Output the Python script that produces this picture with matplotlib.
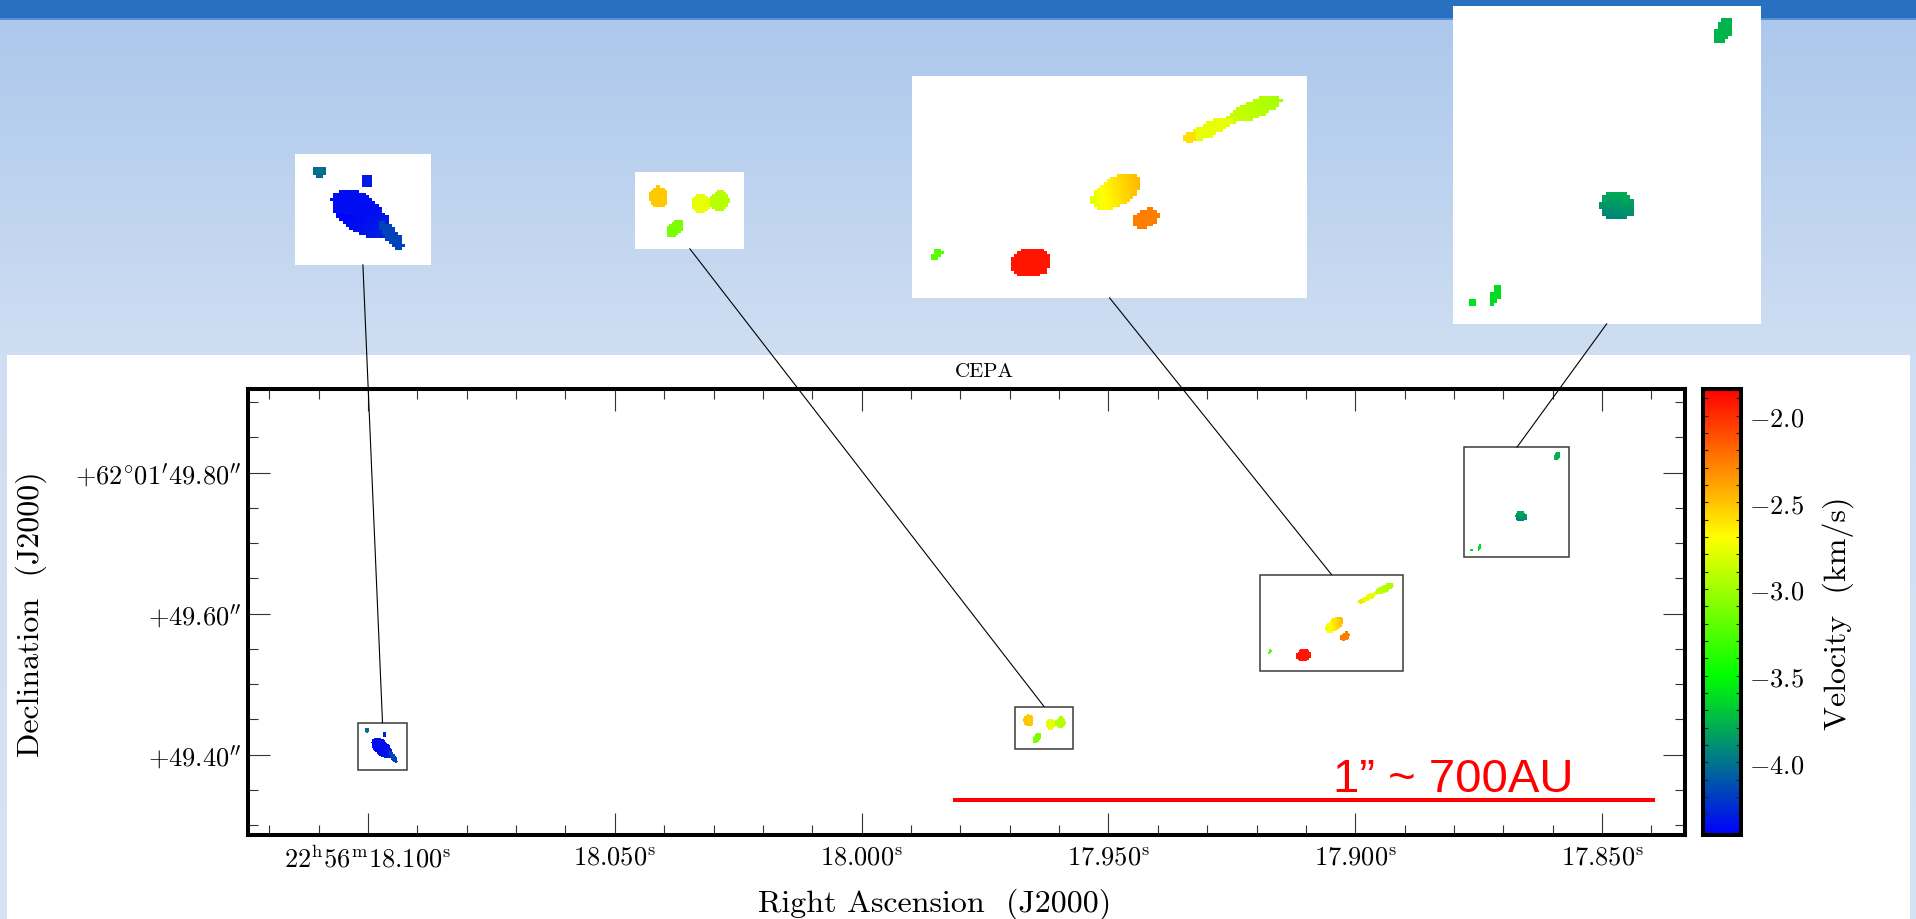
import numpy as np
import matplotlib
matplotlib.use("Agg")
import matplotlib.pyplot as plt
from matplotlib.colors import LinearSegmentedColormap, Normalize
from matplotlib.patches import Rectangle, ConnectionPatch
from matplotlib.ticker import FixedLocator, MultipleLocator

plt.rcParams["mathtext.fontset"] = "cm"

W, H, DPI = 1916, 920, 100

# ---------------------------------------------------------------- data
# water-maser clumps: position (RA seconds of 22h56m, Dec arcsec of +62d01m),
# ellipse semi-axes (mas), position angle of major axis (deg, from +x on sky plot),
# velocity at centre (km/s) and linear velocity gradient (km/s per 10 mas, direction deg)
clump_ra = [18.10027, 18.09677, 18.09722, 18.09790, 18.09500,
            17.96633, 17.96183, 17.95980, 17.96461,
            17.89429, 17.89745, 17.89896, 17.90437, 17.90219, 17.91057, 17.91737,
            17.85920, 17.86652, 17.87491, 17.87647]
clump_dec = [49.4342, 49.4286, 49.4085, 49.4155, 49.3962,
             49.4485, 49.4433, 49.4454, 49.4236,
             49.6349, 49.6227, 49.6176, 49.5842, 49.5678, 49.5408, 49.5459,
             49.8238, 49.7379, 49.6945, 49.6904]
clump_major = [3.4, 3.6, 18.0, 11.0, 10.0,
               8.5, 8.1, 8.5, 8.3,
               15.2, 12.7, 3.6, 14.7, 7.5, 10.8, 3.7,
               6.8, 8.7, 5.5, 1.6]
clump_minor = [3.4, 2.9, 10.0, 8.0, 3.6,
               7.1, 6.9, 7.3, 5.2,
               5.5, 4.3, 3.0, 8.5, 5.2, 9.0, 2.4,
               4.0, 7.4, 2.2, 1.4]
clump_pa = [0, 90, -40, -15, -56,
            90, 90, 80, 50,
            26, 29, 20, 39, 40, 10, 60,
            65, 0, 68, 0]
clump_vel = [-4.01, -4.31, -4.38, -4.36, -4.17,
             -2.52, -2.78, -2.93, -3.12,
             -2.92, -2.78, -2.60, -2.62, -2.27, -1.92, -3.22,
             -3.77, -3.87, -3.62, -3.60]
clump_vgrad = [0, 0, 0.05, 0, 0,
               0, 0, 0, 0,
               -0.04, 0, 0, 0.12, 0, 0, 0,
               0, 0.11, 0, 0]
clump_gpa = [0, 0, -40, 0, 0,
             0, 0, 0, 0,
             26, 0, 0, 10, 0, 0, 0,
             0, 80, 0, 0]

# zoomed regions (RA left, RA right, Dec bottom, Dec top)
zoom_ra_left = [18.1021, 17.96885, 17.91922, 17.87789]
zoom_ra_right = [18.0920, 17.95722, 17.89037, 17.85661]
zoom_dec_bottom = [49.3786, 49.4075, 49.5190, 49.6799]
zoom_dec_top = [49.4448, 49.4680, 49.6552, 49.8359]

# axes tick values and labels
ra_ticks = [18.100, 18.050, 18.000, 17.950, 17.900, 17.850]
ra_tick_labels = [r"$22^{\rm h}56^{\rm m}18.100^{\rm s}$", r"$18.050^{\rm s}$",
                  r"$18.000^{\rm s}$", r"$17.950^{\rm s}$", r"$17.900^{\rm s}$",
                  r"$17.850^{\rm s}$"]
dec_ticks = [49.40, 49.60, 49.80]
dec_tick_labels = [r"$+49.40^{\prime\prime}$", r"$+49.60^{\prime\prime}$",
                   r"$+62^{\circ}01^{\prime}49.80^{\prime\prime}$"]
vel_ticks = [-2.0, -2.5, -3.0, -3.5, -4.0]
vel_tick_labels = [r"$-2.0$", r"$-2.5$", r"$-3.0$", r"$-3.5$", r"$-4.0$"]

# colour table of the velocity scale
vel_min, vel_max = -4.42, -1.846
cmap_values = [-4.42, -3.5, -2.7, -1.846]
cmap_colors = ["#0000ff", "#00ff00", "#ffff00", "#ff0000"]

# scale bar: 1 arcsec ~ 700 AU
bar_length_arcsec = 1.0
bar_label = "1\u201d ~ 700AU"

# ---------------------------------------------------------------- layout helpers
def fig_rect(x0, y0, x1, y1):
    """pixel box (origin top-left) -> figure-fraction rectangle"""
    return [x0 / W, 1 - y1 / H, (x1 - x0) / W, (y1 - y0) / H]


fig = plt.figure(figsize=(W / DPI, H / DPI), dpi=DPI)

# slide-style background: dark band, light-blue gradient, white panel
bg = fig.add_axes([0, 0, 1, 1], zorder=0)
bg.set_xlim(0, W)
bg.set_ylim(H, 0)
bg.axis("off")
rows = np.arange(H)
c_top = np.array([172, 200, 236]) / 255
c_mid = np.array([207, 222, 242]) / 255
c_bot = np.array([214, 227, 244]) / 255
f1 = np.clip((rows - 20) / (356 - 20), 0, 1)[:, None]
f2 = np.clip((rows - 356) / (H - 356), 0, 1)[:, None]
grad = np.where(rows[:, None] < 356, c_top + (c_mid - c_top) * f1, c_mid + (c_bot - c_mid) * f2)
bg.imshow(grad[:, None, :], extent=(0, W, H, 0), aspect="auto", interpolation="bilinear")
bg.add_patch(Rectangle((0, 0), W, 19, color="#2a70c0", lw=0))
bg.add_patch(Rectangle((0, 19), W, 1.6, color="#5b8fd3", lw=0))
bg.add_patch(Rectangle((7, 356), 1903, H - 356, color="white", lw=0))

# ---------------------------------------------------------------- velocity map
ra_hi, ra_lo = 18.1242, 17.8333
dec_lo, dec_hi = 49.2858, 49.9186
mas_per_s = 15 * np.cos(np.deg2rad(62 + 1 / 60 + 49.6 / 3600)) * 1000
cell = 1.7  # mas
nx = int(np.ceil((ra_hi - ra_lo) * mas_per_s / cell))
ny = int(np.ceil((dec_hi - dec_lo) * 1000 / cell))
U, V = np.meshgrid((np.arange(nx) + 0.5) * cell, (np.arange(ny) + 0.5) * cell)
vel = np.full(U.shape, np.nan)
for ra, dec, a, b, pa, v0, g, gpa in zip(clump_ra, clump_dec, clump_major, clump_minor,
                                         clump_pa, clump_vel, clump_vgrad, clump_gpa):
    du = U - (ra_hi - ra) * mas_per_s
    dv = V - (dec - dec_lo) * 1000
    t = np.deg2rad(pa)
    p = du * np.cos(t) + dv * np.sin(t)
    q = -du * np.sin(t) + dv * np.cos(t)
    inside = (p / a) ** 2 + (q / b) ** 2 <= 1
    tg = np.deg2rad(gpa)
    val = v0 + g * (du * np.cos(tg) + dv * np.sin(tg)) / 10.0
    vel[inside] = val[inside]
vel_map = np.ma.masked_invalid(vel)
extent = (ra_hi, ra_hi - nx * cell / mas_per_s, dec_lo, dec_lo + ny * cell / 1000)

pos = (np.array(cmap_values) - vel_min) / (vel_max - vel_min)
cmap = LinearSegmentedColormap.from_list("velo", list(zip(pos, cmap_colors)))
cmap.set_bad((1, 1, 1, 0))
norm = Normalize(vel_min, vel_max)

# ---------------------------------------------------------------- main panel
ax = fig.add_axes(fig_rect(248.5, 390, 1684.5, 836), zorder=1)
ax.set_facecolor("white")
im = ax.imshow(vel_map, cmap=cmap, norm=norm, extent=extent, origin="lower",
               interpolation="nearest", aspect="auto")
ax.set_xlim(ra_hi, ra_lo)
ax.set_ylim(dec_lo, dec_hi)
ax.xaxis.set_major_locator(FixedLocator(ra_ticks))
ax.set_xticklabels(ra_tick_labels)
ax.xaxis.set_minor_locator(MultipleLocator(0.01))
ax.yaxis.set_major_locator(FixedLocator(dec_ticks))
ax.set_yticklabels(dec_tick_labels)
ax.yaxis.set_minor_locator(MultipleLocator(0.05))
ax.tick_params(which="both", direction="in", top=True, right=True,
               color="#333333", width=0.8, labelsize=19)
ax.tick_params(which="major", length=16)
ax.tick_params(which="minor", length=7)
ax.tick_params(axis="x", pad=7)
ax.tick_params(axis="y", pad=5)
for s in ax.spines.values():
    s.set_linewidth(2.9)
    s.set_color("black")

# outlines of the zoomed regions
for rl, rr, db, dt in zip(zoom_ra_left, zoom_ra_right, zoom_dec_bottom, zoom_dec_top):
    ax.add_patch(Rectangle((rl, db), rr - rl, dt - db, fill=False,
                           ec="#3a3a3a", lw=1.1, zorder=3))

# scale bar
bar_ra0, bar_dec = 17.9815, 49.3356
ax.plot([bar_ra0, bar_ra0 - bar_length_arcsec * 1000 / mas_per_s], [bar_dec, bar_dec],
        color="#ff0000", lw=2.9, solid_capstyle="butt", zorder=4)
ax.text(17.9045, 49.3484, bar_label, color="#ff0000", fontsize=34,
        fontfamily="Liberation Sans", ha="left", va="baseline", zorder=4)

fig.text(984 / W, 1 - 372 / H, "CEPA", fontfamily="cmr10", fontsize=15,
         ha="center", va="center")
fig.text(31 / W, 1 - 614 / H, "Declination  (J2000)", fontfamily="cmr10",
         fontsize=23, rotation=90, ha="center", va="center")
fig.text(935 / W, 1 - 904 / H, "Right Ascension  (J2000)", fontfamily="cmr10",
         fontsize=23, ha="center", va="center")

# ---------------------------------------------------------------- colour bar
cax = fig.add_axes(fig_rect(1703, 390, 1741, 836), zorder=1)
cb = fig.colorbar(im, cax=cax)
cb.set_ticks(vel_ticks, labels=vel_tick_labels)
cb.minorlocator = MultipleLocator(0.1)
cb.outline.set_linewidth(2.9)
cax.tick_params(which="both", direction="in", left=True, right=True, length=3.6,
                width=0.8, color="#222222", labelsize=19, pad=6)
fig.text(1838 / W, 1 - 613 / H, "Velocity  (km/s)", fontfamily="cmr10",
         fontsize=23, rotation=90, ha="center", va="center")

# ---------------------------------------------------------------- zoom-in panels
inset_boxes = [(294.5, 155, 431.3, 265.7), (635.4, 173, 744.1, 249.7),
               (911.5, 77, 1307.4, 298.7), (1452.8, 7, 1760.8, 324.7)]
for (x0, y0, x1, y1), rl, rr, db, dt in zip(inset_boxes, zoom_ra_left, zoom_ra_right,
                                             zoom_dec_bottom, zoom_dec_top):
    iax = fig.add_axes(fig_rect(x0, y0, x1, y1), zorder=2)
    iax.set_facecolor("white")
    iax.imshow(vel_map, cmap=cmap, norm=norm, extent=extent, origin="lower",
               interpolation="nearest", aspect="auto")
    iax.set_xlim(rl, rr)
    iax.set_ylim(db, dt)
    iax.set_xticks([])
    iax.set_yticks([])
    for s in iax.spines.values():
        s.set_visible(False)
    con = ConnectionPatch(xyA=(0.5, 0), coordsA=iax.transAxes,
                          xyB=((rl + rr) / 2, dt), coordsB=ax.transData,
                          color="black", lw=0.8)
    con.set_zorder(5)
    fig.add_artist(con)

fig.savefig("out.png", dpi=DPI)
